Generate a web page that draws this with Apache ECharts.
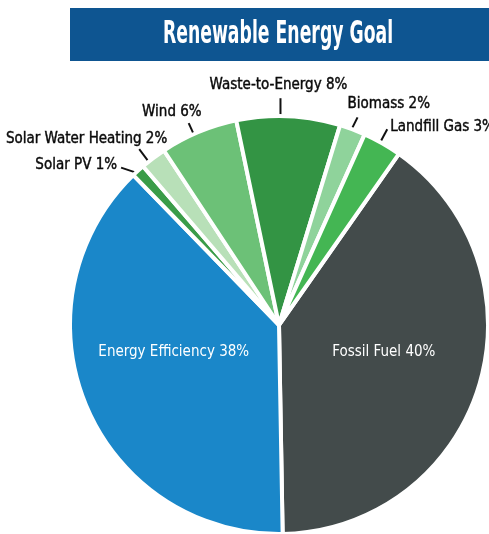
<!DOCTYPE html>
<html>
<head>
<meta charset="utf-8">
<script src="https://cdn.jsdelivr.net/npm/echarts@6/dist/echarts.min.js"></script>
<style>
  html, body { margin: 0; padding: 0; background: #ffffff; }
  #chart { width: 489px; height: 534px; }
</style>
</head>
<body>
<div id="chart"></div>
<script>
const titleText = 'Renewable Energy Goal';
const categories = ['Fossil Fuel', 'Energy Efficiency', 'Solar PV', 'Solar Water Heating', 'Wind', 'Waste-to-Energy', 'Biomass', 'Landfill Gas'];
const shares = [40, 38, 1, 2, 6, 8, 2, 3];
const sliceColors = ['#434b4b', '#1a87c9', '#3a9c48', '#b8e0b8', '#6cc177', '#339444', '#8fd39b', '#44b653'];
const insideSlices = [true, true, false, false, false, false, false, false];

// How each label hangs off its slice: short leader line (lx, ly) from the rim,
// then the text anchored at (dx, dy) from the end of that line.
const labelPlacement = [
  { dx: 2, dy: -4 },
  { dx: -6, dy: -14 },
  { sx: -2, sy: 2, lx: -15, ly: -5, align: 'right', dx: -4, dy: -3 },
  { sx: -5, sy: 3, lx: -9, ly: -12, align: 'right', dx: 28, dy: -10 },
  { sx: -5, sy: 2, lx: -5, ly: -11, align: 'right', dx: 13, dy: -11 },
  { sx: -8, sy: 0, lx: 0, ly: -18, align: 'center', dx: -2, dy: -13 },
  { sx: -1, sy: 0, lx: 6, ly: -12, align: 'left', dx: -10, dy: -13 },
  { sx: -2, sy: -1, lx: 7, ly: -13, align: 'left', dx: 3, dy: -2 }
];

const fontStack = "'Liberation Sans Narrow', 'DejaVu Sans Condensed', 'Roboto', sans-serif";

const pieData = categories.map((name, i) => {
  const item = {
    name: name,
    value: shares[i],
    itemStyle: { color: sliceColors[i] }
  };
  if (insideSlices[i]) {
    item.label = { position: 'inside', color: '#ffffff', fontSize: 15, textBorderWidth: 0 };
    item.labelLine = { show: false };
  }
  return item;
});

const chart = echarts.init(document.getElementById('chart'), null, { renderer: 'canvas' });

chart.setOption({
  backgroundColor: '#ffffff',
  animation: false,
  graphic: [
    {
      type: 'rect',
      shape: { x: 70, y: 8, width: 419, height: 53 },
      style: { fill: '#0e5591' },
      z: 10
    },
    {
      type: 'text',
      x: 278,
      y: 35,
      scaleX: 0.6,
      z: 11,
      style: {
        text: titleText,
        fill: '#ffffff',
        fontSize: 32,
        fontWeight: 'bold',
        fontFamily: fontStack,
        align: 'center',
        verticalAlign: 'middle',
        textAlign: 'center',
        textVerticalAlign: 'middle'
      }
    }
  ],
  series: [
    {
      type: 'pie',
      center: [279, 325],
      radius: [0, 209],
      startAngle: 55,
      clockwise: true,
      avoidLabelOverlap: false,
      emphasis: { disabled: true },
      itemStyle: { borderColor: '#ffffff', borderWidth: 4 },
      label: {
        show: true,
        position: 'outside',
        formatter: '{b} {c}%',
        color: '#0a0a0a',
        fontSize: 15,
        fontFamily: fontStack,
        textBorderColor: '#0a0a0a',
        textBorderWidth: 0.4
      },
      labelLine: {
        show: true,
        length: 12,
        length2: 0,
        lineStyle: { color: '#111111', width: 2 }
      },
      labelLayout: function (params) {
        const cfg = labelPlacement[params.dataIndex];
        if (insideSlices[params.dataIndex]) {
          return { dx: cfg.dx, dy: cfg.dy };
        }
        const rim = params.labelLinePoints[0];
        const start = [rim[0] + cfg.sx, rim[1] + cfg.sy];
        const end = [start[0] + cfg.lx, start[1] + cfg.ly];
        return {
          x: end[0] + cfg.dx,
          y: end[1] + cfg.dy,
          align: cfg.align,
          verticalAlign: 'middle',
          labelLinePoints: [start, end]
        };
      },
      data: pieData
    }
  ]
});
</script>
</body>
</html>
